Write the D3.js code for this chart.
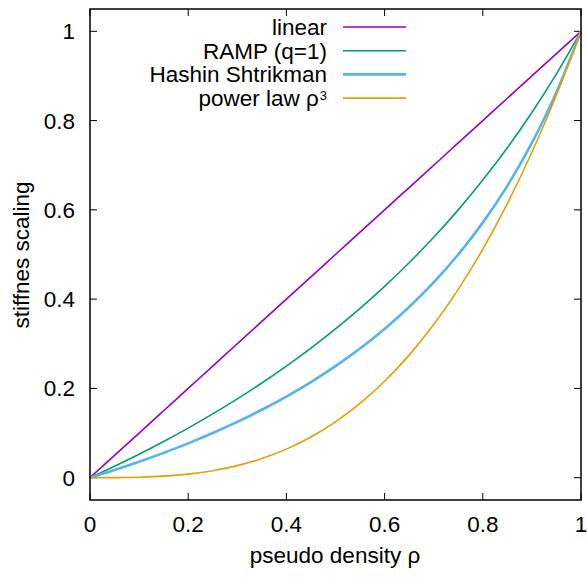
<!DOCTYPE html>
<html><head><meta charset="utf-8">
<script src="https://cdn.jsdelivr.net/npm/d3@7"></script>
<style>body{margin:0;background:#fff}svg{display:block}text{font-family:"Liberation Sans",Arial,sans-serif;fill:#000}</style>
</head><body><svg id="c" width="587" height="577"></svg>
<script>
const rho = [0,0.05,0.1,0.15,0.2,0.25,0.3,0.35,0.4,0.45,0.5,0.55,0.6,0.65,0.7,0.75,0.8,0.85,0.9,0.95,1];
const linear = [0,0.05,0.1,0.15,0.2,0.25,0.3,0.35,0.4,0.45,0.5,0.55,0.6,0.65,0.7,0.75,0.8,0.85,0.9,0.95,1];
const ramp = [0,0.0256,0.0526,0.0811,0.1111,0.1429,0.1765,0.2121,0.25,0.2903,0.3333,0.3793,0.4286,0.4815,0.5385,0.6,0.6667,0.7391,0.8182,0.9048,1];
const hashin = [0,0.0172,0.0357,0.0556,0.0769,0.1,0.125,0.1522,0.1818,0.2143,0.25,0.2895,0.3333,0.3824,0.4375,0.5,0.5714,0.6538,0.75,0.8636,1];
const power = [0,0.0001,0.001,0.0034,0.008,0.0156,0.027,0.0429,0.064,0.0911,0.125,0.1664,0.216,0.2746,0.343,0.4219,0.512,0.6141,0.729,0.8574,1];
const seriesNames = ["linear","RAMP (q=1)","Hashin Shtrikman","power law ρ"];
const seriesColors = ["#9400d3","#009e73","#56b4e9","#e69f00"];
const xTicks = [0,0.2,0.4,0.6,0.8,1];
const yTicks = [0,0.2,0.4,0.6,0.8,1];

const svg = d3.select("#c");
const L=90,R=581,T=9,B=500;
const x = d3.scaleLinear().domain([0,1]).range([L,R]);
const y = d3.scaleLinear().domain([-0.05,1.05]).range([B,T]);
const fs = 22.5;

// ticks (inward, mirrored)
const tk = 7;
const g = svg.append("g").attr("stroke","#000").attr("stroke-width",1);
xTicks.forEach(v=>{
  g.append("line").attr("x1",x(v)).attr("x2",x(v)).attr("y1",B).attr("y2",B-tk);
  g.append("line").attr("x1",x(v)).attr("x2",x(v)).attr("y1",T).attr("y2",T+tk);
});
yTicks.forEach(v=>{
  g.append("line").attr("x1",L).attr("x2",L+tk).attr("y1",y(v)).attr("y2",y(v));
  g.append("line").attr("x1",R).attr("x2",R-tk).attr("y1",y(v)).attr("y2",y(v));
});
const fmt = v => v===0?"0":(v===1?"1":String(v));
svg.append("g").selectAll("text").data(xTicks).join("text")
  .attr("x",d=>x(d)).attr("y",532).attr("text-anchor","middle").attr("font-size",fs).text(fmt);
svg.append("g").selectAll("text").data(yTicks).join("text")
  .attr("x",75).attr("y",d=>y(d)+8).attr("text-anchor","end").attr("font-size",fs).text(fmt);

svg.append("text").attr("x",335).attr("y",563).attr("text-anchor","middle").attr("font-size",fs).text("pseudo density ρ");
svg.append("text").attr("transform","translate(29,255) rotate(-90)").attr("text-anchor","middle").attr("font-size",fs).text("stiffnes scaling");

// curves
const data = [linear,ramp,hashin,power];
const widths = [1.6,1.6,2.6,1.6];
const line = d3.line().x(d=>x(d[0])).y(d=>y(d[1])).curve(d3.curveMonotoneX);
svg.append("g").selectAll("path").data(data).join("path")
  .attr("d",(s)=>line(rho.map((r,i)=>[r,s[i]])))
  .attr("fill","none").attr("stroke",(d,i)=>seriesColors[i]).attr("stroke-width",(d,i)=>widths[i]);

// legend
const lg = svg.append("g");
seriesNames.forEach((n,i)=>{
  const yy = 27 + i*23.7;
  const t = lg.append("text").attr("x",327).attr("y",yy+8).attr("text-anchor","end").attr("font-size",fs).text(n);
  if(i===3) t.append("tspan").attr("dx",1).attr("dy",-6).attr("font-size",13).text("3");
  lg.append("line").attr("x1",343).attr("x2",406).attr("y1",yy).attr("y2",yy)
    .attr("stroke",seriesColors[i]).attr("stroke-width",widths[i]);
});

// frame
svg.append("rect").attr("x",L).attr("y",T).attr("width",R-L).attr("height",B-T)
  .attr("fill","none").attr("stroke","#000").attr("stroke-width",1.5);
</script></body></html>
